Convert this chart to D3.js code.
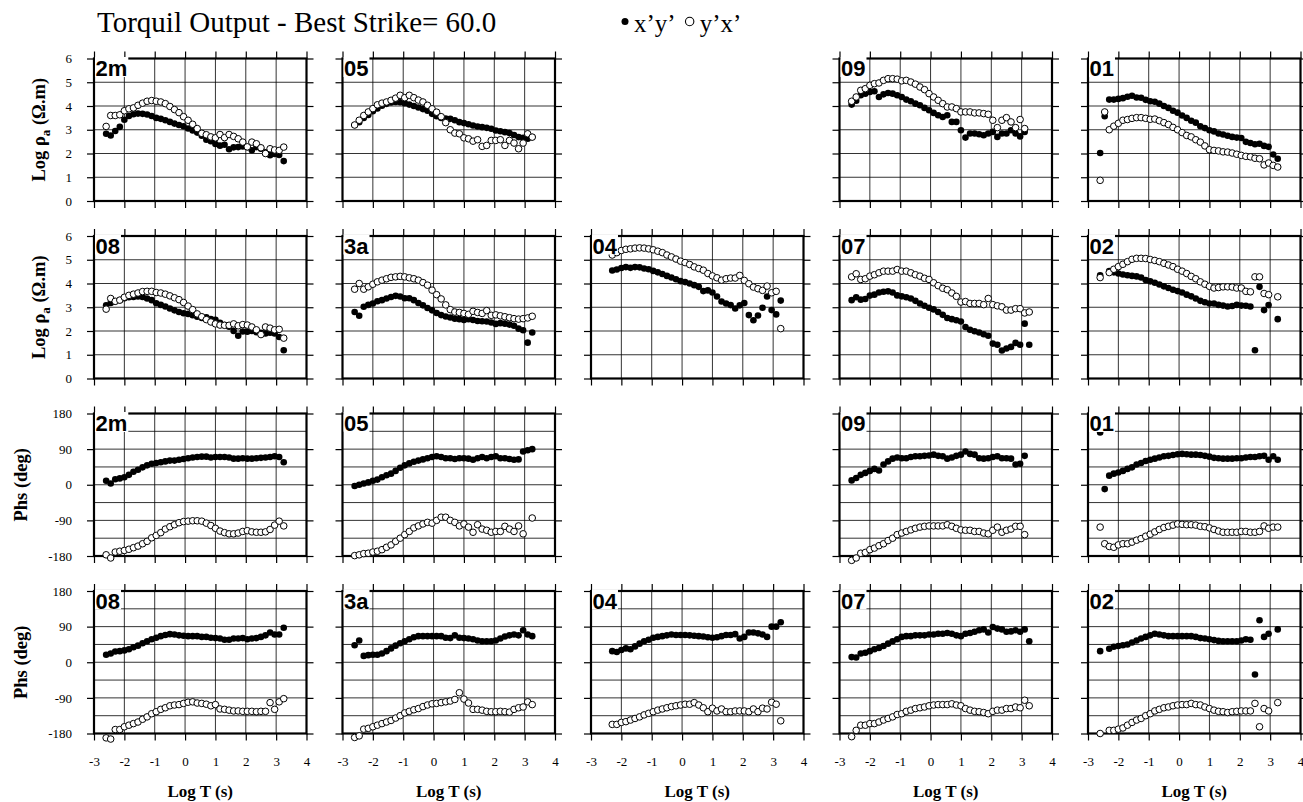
<!DOCTYPE html>
<html>
<head>
<meta charset="utf-8">
<script src="https://cdn.jsdelivr.net/npm/d3@7"></script>
<style>
  body { margin: 0; background: #fff; }
  svg { display: block; }
</style>
</head>
<body>
<svg id="chart" width="1303" height="802"></svg>
<script>
// Log10 period (s) of every estimate; null entries mark missing estimates
const logPeriods = [-2.60,-2.45,-2.30,-2.15,-2.00,-1.85,-1.70,-1.55,-1.40,-1.25,
  -1.10,-0.95,-0.80,-0.65,-0.50,-0.35,-0.20,-0.05,0.10,0.25,
  0.40,0.55,0.70,0.85,1.00,1.15,1.30,1.45,1.60,1.75,
  1.90,2.05,2.20,2.35,2.50,2.65,2.80,2.95,3.10,3.25];

// Log apparent resistivity (ohm.m), x'y' and y'x'
const rho_2m_xy = [2.83,2.76,2.95,3.12,3.42,3.58,3.65,3.68,3.67,3.64,3.58,3.50,3.46,3.40,3.33,3.26,3.20,3.15,3.05,2.97,2.88,2.75,2.58,2.52,2.40,2.33,2.37,2.18,2.26,2.27,2.30,2.27,2.14,2.27,2.20,2.05,1.93,1.98,1.94,1.68];
const rho_2m_yx = [3.14,3.60,3.60,3.63,3.80,3.88,3.92,4.03,4.12,4.20,4.23,4.20,4.17,4.10,3.98,3.85,3.72,3.55,3.40,3.23,3.05,2.85,2.79,2.70,2.66,2.80,2.67,2.80,2.72,2.62,2.48,2.28,2.48,2.41,2.24,2.00,2.20,2.15,2.13,2.27];
const rho_05_xy = [3.20,3.32,3.50,3.62,3.78,3.90,4.01,4.09,4.15,4.17,4.16,4.12,4.06,4.00,3.94,3.87,3.80,3.67,3.57,3.50,3.47,3.46,3.40,3.32,3.28,3.23,3.18,3.14,3.11,3.08,3.04,2.97,2.94,2.90,2.86,2.78,2.69,2.66,2.62,2.69];
const rho_05_yx = [3.20,3.40,3.60,3.75,3.89,4.05,4.12,4.17,4.24,4.33,4.45,4.35,4.45,4.35,4.25,4.17,4.03,3.88,3.74,3.55,3.30,3.00,2.86,2.83,2.66,2.62,2.52,2.58,2.30,2.34,2.55,2.55,2.58,2.34,2.55,2.44,2.20,2.44,2.83,2.69];
const rho_09_xy = [4.06,4.22,4.45,4.52,4.59,4.62,4.38,4.49,4.55,4.52,4.45,4.38,4.27,4.20,4.10,4.03,3.92,3.82,3.71,3.61,3.54,3.61,3.33,3.33,2.98,2.67,2.84,2.84,2.81,2.77,2.84,2.91,2.70,2.84,2.84,2.98,2.84,2.72,2.91,null];
const rho_09_yx = [4.20,4.38,4.66,4.73,4.87,4.94,4.97,5.08,5.15,5.15,5.13,5.06,5.08,5.01,4.92,4.80,4.69,4.52,4.38,4.24,4.10,3.96,3.96,3.89,3.75,3.75,3.75,3.71,3.71,3.68,3.65,3.40,3.09,3.40,3.51,3.33,3.09,3.43,3.05,null];
const rho_01_xy = [2.02,3.57,4.27,4.27,4.30,4.33,4.39,4.43,4.36,4.35,4.26,4.20,4.18,4.10,4.00,3.92,3.80,3.72,3.60,3.50,3.38,3.30,3.15,3.07,2.98,2.93,2.84,2.80,2.75,2.70,2.67,2.65,2.49,2.44,2.39,2.41,2.32,2.28,1.96,1.78];
const rho_01_yx = [0.87,3.75,3.00,3.15,3.27,3.40,3.43,3.48,3.51,3.51,3.48,3.44,3.45,3.38,3.30,3.22,3.10,3.00,2.88,2.76,2.70,2.58,2.48,2.32,2.16,2.13,2.11,2.07,2.06,2.02,1.97,1.92,1.88,1.86,1.80,1.78,1.52,1.60,1.50,1.43];
const rho_08_xy = [3.08,3.18,3.25,3.30,3.38,3.42,3.43,3.45,3.43,3.37,3.30,3.17,3.10,3.03,2.95,2.87,2.80,2.75,2.72,2.66,2.60,2.55,2.58,2.50,2.47,2.35,2.25,2.18,2.00,1.80,1.98,1.97,2.00,1.95,1.92,1.90,1.93,1.90,1.75,1.19];
const rho_08_yx = [2.92,3.37,3.25,3.30,3.42,3.50,3.55,3.60,3.66,3.67,3.67,3.62,3.60,3.55,3.48,3.40,3.32,3.20,3.05,2.90,2.72,2.60,2.48,2.38,2.30,2.25,2.24,2.24,2.30,2.22,2.27,2.25,2.17,2.05,1.85,2.17,2.12,2.05,2.07,1.70];
const rho_3a_xy = [2.80,2.64,3.02,3.10,3.16,3.25,3.30,3.37,3.43,3.48,3.45,3.38,3.38,3.30,3.18,3.08,2.97,2.87,2.76,2.67,2.61,2.57,2.52,2.50,2.46,2.50,2.46,2.42,2.41,2.40,2.36,2.30,2.33,2.31,2.27,2.22,2.10,2.03,1.51,1.94];
const rho_3a_yx = [3.76,4.00,3.76,3.86,3.97,4.07,4.14,4.20,4.26,4.28,4.30,4.28,4.24,4.20,4.14,4.04,3.93,3.72,3.53,3.35,3.10,2.90,2.80,2.78,2.74,2.70,2.83,2.78,2.74,2.86,2.66,2.68,2.64,2.60,2.56,2.52,2.50,2.52,2.55,2.62];
const rho_04_xy = [null,null,4.55,4.59,4.65,4.69,4.66,4.69,4.68,4.63,4.60,4.53,4.47,4.40,4.32,4.25,4.18,4.10,4.06,4.00,3.93,3.86,3.68,3.71,3.62,3.45,3.24,3.16,3.09,2.95,3.08,3.18,2.67,2.45,2.65,2.98,3.45,2.88,2.70,3.28];
const rho_04_yx = [null,null,5.20,5.30,5.39,5.44,5.46,5.49,5.50,5.49,5.46,5.42,5.36,5.30,5.20,5.12,5.03,4.94,4.88,4.80,4.70,4.63,4.56,4.42,4.32,4.24,4.14,4.20,4.23,4.23,4.34,4.13,3.99,3.85,3.78,3.71,3.89,3.61,3.67,2.10];
const rho_07_xy = [3.30,3.42,3.32,3.35,3.49,3.53,3.62,3.65,3.67,3.62,3.50,3.46,3.42,3.37,3.27,3.16,3.06,2.98,2.91,2.80,2.68,2.55,2.50,2.45,2.40,2.17,2.05,1.99,1.94,1.86,1.80,1.47,1.42,1.18,1.26,1.33,1.50,1.42,2.31,1.42];
const rho_07_yx = [4.28,4.41,4.17,4.20,4.31,4.37,4.45,4.52,4.52,4.52,4.59,4.52,4.52,4.45,4.37,4.31,4.22,4.17,4.03,3.91,3.80,3.74,3.60,3.46,3.22,3.24,3.16,3.16,3.16,3.11,3.37,3.11,3.06,3.02,2.88,2.88,2.94,2.94,2.76,2.80];
const rho_02_xy = [4.35,null,4.52,4.47,4.42,4.38,4.35,4.32,4.30,4.25,4.15,4.09,4.03,3.96,3.88,3.81,3.74,3.68,3.62,3.53,3.46,3.37,3.27,3.21,3.16,3.16,3.10,3.07,3.03,3.05,3.10,3.07,3.06,3.03,1.19,3.86,2.88,3.09,null,2.50];
const rho_02_yx = [4.25,null,4.46,4.60,4.71,4.81,4.92,5.02,5.06,5.06,5.05,5.01,4.97,4.92,4.85,4.78,4.71,4.60,4.52,4.42,4.30,4.20,4.07,3.97,3.88,3.81,3.83,3.86,3.86,3.85,3.81,3.81,3.67,3.65,4.28,4.28,3.58,3.53,null,3.44];

// Impedance phase (degrees), x'y' and y'x'
const phs_2m_xy = [10,3,14,16,19,25,33,38,44,49,53,55,57,59,61,61,63,65,67,69,70,71,71,69,70,70,70,69,66,66,67,66,66,67,68,69,70,72,70,57];
const phs_2m_yx = [-177,-185,-170,-168,-166,-163,-159,-155,-149,-143,-134,-128,-121,-112,-106,-101,-96,-93,-92,-91,-91,-92,-97,-103,-110,-117,-121,-124,-124,-122,-118,-116,-119,-120,-120,-119,-113,-102,-92,-104];
const phs_05_xy = [-3,0,3,6,10,13,19,24,28,35,43,49,54,58,61,64,67,70,72,70,67,67,65,67,67,66,63,67,70,67,70,72,67,67,65,63,64,84,87,90];
const phs_05_yx = [-179,-177,-174,-173,-170,-168,-164,-158,-152,-143,-135,-126,-118,-109,-104,-99,-95,-97,-90,-82,-82,-90,-95,-104,-99,-107,-120,-101,-112,-115,-120,-118,-118,-105,-112,-118,-104,-124,null,-84];
const phs_09_xy = [11,17,25,30,35,40,36,51,59,66,69,67,67,70,72,72,73,74,76,73,72,66,69,73,76,84,78,76,67,66,67,70,72,67,67,66,51,53,73,null];
const phs_09_yx = [-191,-185,-173,-171,-164,-160,-154,-149,-141,-135,-126,-122,-118,-114,-110,-107,-105,-104,-104,-104,-104,-101,-105,-110,-114,-115,-115,-118,-118,-122,-124,-115,-107,-120,-115,-112,-105,-105,-126,null];
const phs_01_xy = [132,-11,23,28,31,35,40,44,51,55,60,63,66,69,72,73,75,77,78,77,76,76,75,73,71,68,67,66,66,66,67,67,69,70,70,72,73,63,72,63];
const phs_01_yx = [-107,-149,-156,-158,-152,-149,-149,-145,-140,-136,-130,-125,-119,-113,-108,-105,-102,-99,-100,-101,-101,-102,-105,-106,-109,-113,-117,-120,-120,-120,-120,-118,-118,-120,-120,-118,-104,-110,-107,-107];
const phs_08_xy = [19,22,27,28,30,33,38,42,48,53,58,62,66,69,71,70,68,67,66,66,66,64,64,62,61,60,57,57,60,60,61,58,60,61,64,68,75,70,70,87];
const phs_08_yx = [-191,-194,-170,-170,-163,-159,-155,-151,-144,-138,-130,-125,-119,-115,-110,-108,-107,-104,-101,-100,-103,-104,-106,-110,-107,-118,-119,-121,-123,-123,-124,-124,-124,-125,-124,-124,-102,-119,-100,-92];
const phs_3a_xy = [43,55,16,18,19,19,22,28,35,42,48,53,58,63,66,66,66,66,66,66,62,61,68,62,61,60,58,55,53,53,53,55,60,65,68,70,68,81,70,66];
const phs_3a_yx = [-190,-186,-169,-167,-163,-159,-155,-151,-147,-141,-135,-128,-124,-120,-117,-112,-108,-105,-104,-102,-100,-98,-94,-77,-93,-103,-119,-119,-121,-124,-125,-125,-124,-125,-126,-119,-115,-113,-100,-107];
const phs_04_xy = [null,null,28,26,31,35,33,40,47,53,57,62,64,66,68,70,69,69,69,68,67,66,65,63,62,63,66,69,69,71,60,64,75,75,73,70,64,90,90,101];
const phs_04_yx = [null,null,-157,-157,-152,-150,-146,-142,-138,-133,-129,-125,-121,-118,-115,-112,-110,-108,-106,-106,-102,-108,-115,-125,-116,-123,-118,-125,-125,-123,-123,-123,-125,-118,-125,-116,-118,-101,-106,-148];
const phs_07_xy = [13,12,22,24,28,33,36,41,47,53,58,64,66,66,68,68,68,70,70,72,72,74,72,68,66,72,74,77,81,83,75,89,85,83,77,78,81,77,83,53];
const phs_07_yx = [-188,-172,-159,-159,-155,-155,-151,-146,-142,-138,-132,-130,-124,-121,-117,-115,-113,-110,-108,-107,-107,-107,-105,-108,-110,-117,-121,-124,-125,-127,-130,-124,-121,-121,-117,-117,-113,-115,-96,-110];
const phs_02_xy = [28,null,34,39,41,43,45,50,55,60,64,68,72,70,68,66,66,66,66,66,66,64,61,60,58,56,54,53,53,53,53,55,58,57,-31,106,64,72,null,83];
const phs_02_yx = [-180,null,-172,-172,-169,-166,-159,-152,-146,-142,-135,-130,-123,-119,-115,-113,-110,-108,-107,-107,-104,-107,-108,-113,-117,-121,-124,-125,-127,-125,-124,-123,-123,-123,-104,-163,-117,-123,null,-102];

// Axis ticks
const xTickValues = [-3,-2,-1,0,1,2,3,4];
const rhoTickValues = [0,1,2,3,4,5,6];
const phsTickValues = [-180,-90,0,90,180];
const phsGridValues = [-135,-90,-45,0,45,90,135];

// Panel grid: rows 0-1 resistivity, rows 2-3 phase
const panels = [
  {site:"2m", kind:"rho", row:0, col:0, xy:rho_2m_xy, yx:rho_2m_yx},
  {site:"05", kind:"rho", row:0, col:1, xy:rho_05_xy, yx:rho_05_yx},
  {site:"09", kind:"rho", row:0, col:3, xy:rho_09_xy, yx:rho_09_yx},
  {site:"01", kind:"rho", row:0, col:4, xy:rho_01_xy, yx:rho_01_yx},
  {site:"08", kind:"rho", row:1, col:0, xy:rho_08_xy, yx:rho_08_yx},
  {site:"3a", kind:"rho", row:1, col:1, xy:rho_3a_xy, yx:rho_3a_yx},
  {site:"04", kind:"rho", row:1, col:2, xy:rho_04_xy, yx:rho_04_yx},
  {site:"07", kind:"rho", row:1, col:3, xy:rho_07_xy, yx:rho_07_yx},
  {site:"02", kind:"rho", row:1, col:4, xy:rho_02_xy, yx:rho_02_yx},
  {site:"2m", kind:"phs", row:2, col:0, xy:phs_2m_xy, yx:phs_2m_yx},
  {site:"05", kind:"phs", row:2, col:1, xy:phs_05_xy, yx:phs_05_yx},
  {site:"09", kind:"phs", row:2, col:3, xy:phs_09_xy, yx:phs_09_yx},
  {site:"01", kind:"phs", row:2, col:4, xy:phs_01_xy, yx:phs_01_yx},
  {site:"08", kind:"phs", row:3, col:0, xy:phs_08_xy, yx:phs_08_yx},
  {site:"3a", kind:"phs", row:3, col:1, xy:phs_3a_xy, yx:phs_3a_yx},
  {site:"04", kind:"phs", row:3, col:2, xy:phs_04_xy, yx:phs_04_yx},
  {site:"07", kind:"phs", row:3, col:3, xy:phs_07_xy, yx:phs_07_yx},
  {site:"02", kind:"phs", row:3, col:4, xy:phs_02_xy, yx:phs_02_yx}
];

// Layout
const PW = 212.5, PH = 142.5;
const colLeft = [94, 342.5, 591, 839.5, 1088];
const rowTop = [58.5, 236, 413.5, 591];
const SERIF = "'Liberation Serif', 'Times New Roman', serif";
const SANS = "'Liberation Sans', Arial, sans-serif";
const R = 3.3;

const svg = d3.select("#chart");
svg.append("rect").attr("width", 1303).attr("height", 802).attr("fill", "#fff");

const x = d3.scaleLinear().domain([-3, 4]).range([0, PW]);
const yRho = d3.scaleLinear().domain([0, 6]).range([PH, 0]);
const yPhs = d3.scaleLinear().domain([-180, 180]).range([PH, 0]);

function styleAxis(sel) {
  sel.select(".domain").remove();
  sel.selectAll(".tick line").attr("stroke", "#000").attr("stroke-width", 1.2);
  sel.selectAll(".tick text")
    .attr("font-family", SERIF).attr("font-size", 13).attr("fill", "#000");
}

panels.forEach(p => {
  const y = p.kind === "rho" ? yRho : yPhs;
  const yTicks = p.kind === "rho" ? rhoTickValues : phsTickValues;
  const yGrid = p.kind === "rho" ? rhoTickValues.slice(1, -1) : phsGridValues;
  const g = svg.append("g")
    .attr("transform", `translate(${colLeft[p.col]},${rowTop[p.row]})`);

  // grid
  const grid = g.append("g").attr("stroke", "#000").attr("stroke-width", 1).attr("stroke-opacity", 0.8);
  grid.selectAll("line.v").data(xTickValues.slice(1, -1)).join("line")
    .attr("class", "v")
    .attr("x1", d => x(d)).attr("x2", d => x(d)).attr("y1", 0).attr("y2", PH);
  grid.selectAll("line.h").data(yGrid).join("line")
    .attr("class", "h")
    .attr("x1", 0).attr("x2", PW).attr("y1", d => y(d)).attr("y2", d => y(d));

  // ticks on all four sides
  const showY = p.col === 0;
  const showX = p.row === 3;
  g.append("g")
    .call(d3.axisLeft(y).tickValues(yTicks).tickSize(7).tickPadding(15)
      .tickFormat(showY ? d => String(d) : () => ""))
    .call(styleAxis);
  g.append("g").attr("transform", `translate(${PW},0)`)
    .call(d3.axisRight(y).tickValues(yTicks).tickSize(7).tickFormat(() => ""))
    .call(styleAxis);
  g.append("g")
    .call(d3.axisTop(x).tickValues(xTickValues).tickSize(7).tickFormat(() => ""))
    .call(styleAxis);
  g.append("g").attr("transform", `translate(0,${PH})`)
    .call(d3.axisBottom(x).tickValues(xTickValues).tickSize(7).tickPadding(16)
      .tickFormat(showX ? d => String(d) : () => ""))
    .call(styleAxis);

  // frame
  g.append("rect").attr("width", PW).attr("height", PH)
    .attr("fill", "none").attr("stroke", "#000").attr("stroke-width", 2.2);

  // data: x'y' filled, y'x' open
  const pts = (vals) => logPeriods.map((t, i) => [t, vals[i]]).filter(d => d[1] !== null);
  g.append("g").selectAll("circle").data(pts(p.xy)).join("circle")
    .attr("cx", d => x(d[0])).attr("cy", d => y(d[1])).attr("r", R)
    .attr("fill", "#000");
  g.append("g").selectAll("circle").data(pts(p.yx)).join("circle")
    .attr("cx", d => x(d[0])).attr("cy", d => y(d[1])).attr("r", R)
    .attr("fill", "#fff").attr("stroke", "#000").attr("stroke-width", 1);

  // site label
  const lab = g.append("text").attr("x", 1.5).attr("y", 17.5)
    .attr("font-family", SANS).attr("font-weight", "bold").attr("font-size", 22)
    .text(p.site);
  const w = lab.node().getComputedTextLength();
  g.insert("rect", () => lab.node())
    .attr("x", 1).attr("y", -1.5).attr("width", w + 1.5).attr("height", 20)
    .attr("fill", "#fff");

  // x-axis title on bottom row
  if (showX) {
    g.append("text").attr("x", PW / 2).attr("y", PH + 63.5)
      .attr("text-anchor", "middle").attr("font-family", SERIF)
      .attr("font-weight", "bold").attr("font-size", 17)
      .text("Log T (s)");
  }
});

// y-axis titles
[0, 1].forEach(r => {
  const t = svg.append("text")
    .attr("transform", `translate(45,${rowTop[r] + PH / 2}) rotate(-90)`)
    .attr("text-anchor", "middle").attr("font-family", SERIF)
    .attr("font-weight", "bold").attr("font-size", 18.5);
  t.append("tspan").text("Log \u03c1");
  t.append("tspan").attr("dy", 4.5).attr("font-size", 13).text("a");
  t.append("tspan").attr("dy", -4.5).text(" (\u03a9.m)");
});
[2, 3].forEach(r => {
  svg.append("text")
    .attr("transform", `translate(27,${rowTop[r] + PH / 2}) rotate(-90)`)
    .attr("text-anchor", "middle").attr("font-family", SERIF)
    .attr("font-weight", "bold").attr("font-size", 18.5)
    .text("Phs (deg)");
});

// title
svg.append("text").attr("x", 97).attr("y", 31.5)
  .attr("font-family", SERIF).attr("font-size", 29)
  .text("Torquil Output - Best Strike= 60.0");

// legend
const leg = svg.append("g").attr("font-family", SERIF).attr("font-size", 25);
leg.append("circle").attr("cx", 625).attr("cy", 21.5).attr("r", 3.5).attr("fill", "#000");
const t1 = leg.append("text").attr("x", 634).attr("y", 31.5).text("x\u2019y\u2019");
const x2 = 634 + t1.node().getComputedTextLength() + 14;
leg.append("circle").attr("cx", x2).attr("cy", 21.5).attr("r", 4.2)
  .attr("fill", "#fff").attr("stroke", "#000").attr("stroke-width", 1.1);
leg.append("text").attr("x", x2 + 10).attr("y", 31.5).text("y\u2019x\u2019");
</script>
</body>
</html>
